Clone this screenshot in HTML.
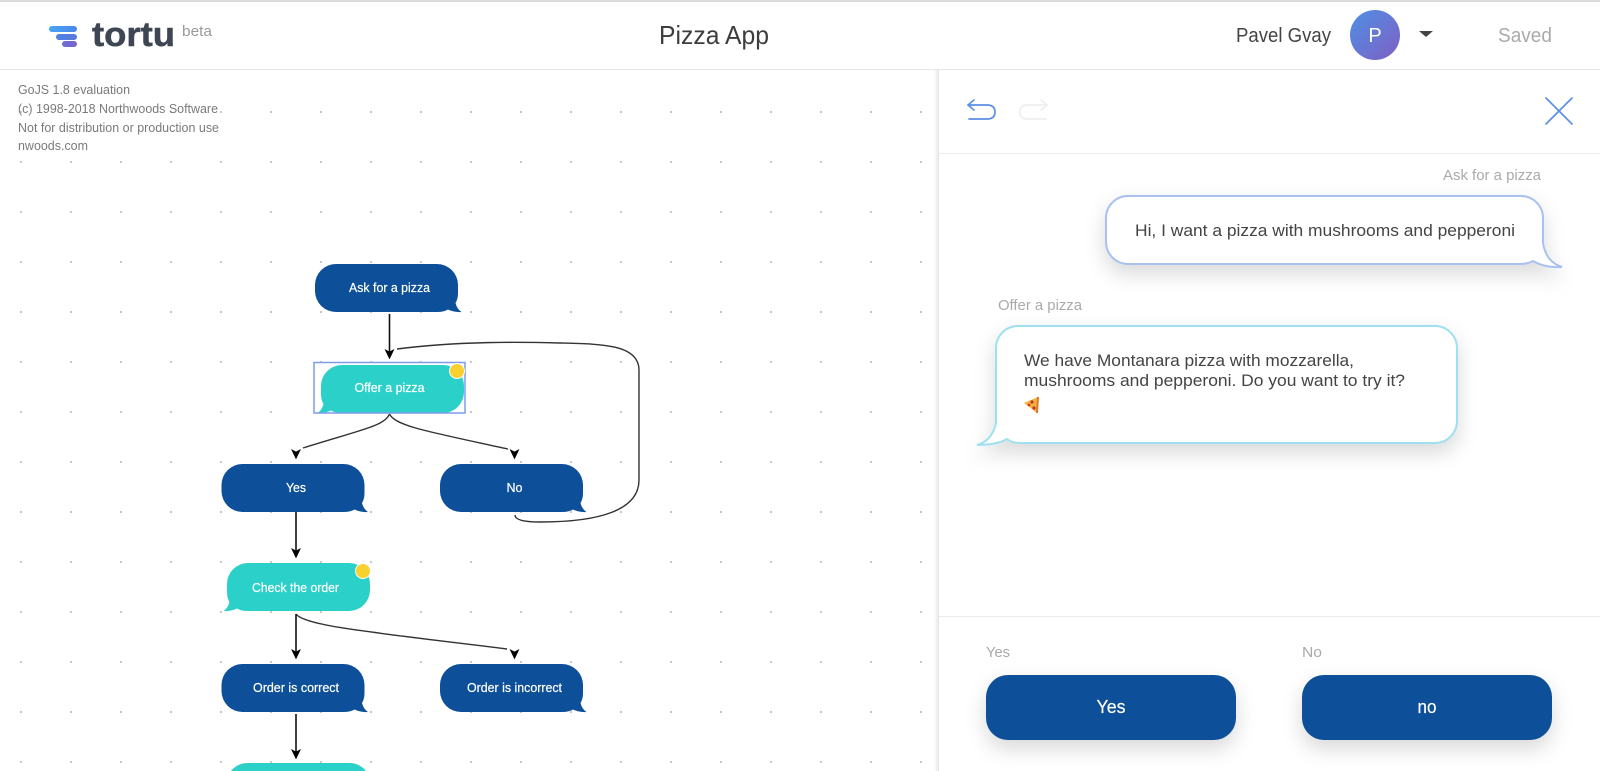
<!DOCTYPE html>
<html lang="en">
<head>
<meta charset="utf-8">
<title>Pizza App</title>
<style>
html,body{margin:0;padding:0;background:#fff;width:1600px;height:771px;overflow:hidden}
svg{display:block;font-family:"Liberation Sans",sans-serif;filter:blur(.35px)}
</style>
</head>
<body>
<svg xmlns="http://www.w3.org/2000/svg" width="1600" height="771" viewBox="0 0 1600 771">
<defs>
  <pattern id="dots" patternUnits="userSpaceOnUse" x="0" y="0" width="50" height="50">
    <rect x="20" y="11" width="2" height="2" fill="#c8c8c8"/>
  </pattern>
  <linearGradient id="logoA" x1="0" y1="0" x2="1" y2="0"><stop offset="0" stop-color="#46a5f5"/><stop offset="1" stop-color="#4a86ea"/></linearGradient>
  <linearGradient id="logoB" x1="0" y1="0" x2="1" y2="0"><stop offset="0" stop-color="#4e82e6"/><stop offset="1" stop-color="#5a78dc"/></linearGradient>
  <linearGradient id="logoC" x1="0" y1="0" x2="1" y2="0"><stop offset="0" stop-color="#6a6ed6"/><stop offset="1" stop-color="#7a62cc"/></linearGradient>
  <linearGradient id="ava" x1="0" y1="0" x2="1" y2="1"><stop offset="0" stop-color="#4f90e4"/><stop offset="1" stop-color="#7f5fc4"/></linearGradient>
  <linearGradient id="edge" x1="0" y1="0" x2="1" y2="0"><stop offset="0" stop-color="#fff"/><stop offset="1" stop-color="#e2e4e8"/></linearGradient>
  <filter id="sh" x="-15%" y="-30%" width="130%" height="180%"><feDropShadow dx="0" dy="9" stdDeviation="10" flood-color="#000" flood-opacity=".15"/></filter>
  <path id="blueNode" fill="#0d4f98" d="M21 0H122A21 21 0 0 1 143 21V29Q143 35 140.5 39Q142 45 146.5 48Q139 48.5 133 45.5Q129 48 122 48H21A21 21 0 0 1 0 27V21A21 21 0 0 1 21 0Z"/>
  <path id="tealNode" fill="#2bd0c9" transform="matrix(-1 0 0 1 143 0)" d="M21 0H122A21 21 0 0 1 143 21V29Q143 35 140.5 39Q142 45 146.5 48Q139 48.5 133 45.5Q129 48 122 48H21A21 21 0 0 1 0 27V21A21 21 0 0 1 21 0Z"/>
  <path id="arr" fill="#000" stroke="#000" stroke-width=".4" d="M0 0L-4.6 -9.6L0 -7.2L4.6 -9.6Z"/>
</defs>

<rect x="0" y="0" width="1600" height="771" fill="#fff"/>
<rect x="0" y="70" width="936" height="701" fill="url(#dots)"/>

<!-- header -->
<rect x="0" y="0" width="1600" height="2" fill="#dcdcdc"/>
<rect x="0" y="69" width="1600" height="1" fill="#e8e8e8"/>
<rect x="49" y="26" width="28" height="6" rx="3" fill="url(#logoA)"/>
<rect x="56" y="34" width="21" height="6" rx="3" fill="url(#logoB)"/>
<rect x="62" y="41" width="15" height="6" rx="3" fill="url(#logoC)"/>
<text x="92" y="46" font-size="34" font-weight="700" fill="#3f4653" stroke="#3f4653" stroke-width=".5" textLength="83" lengthAdjust="spacingAndGlyphs">tortu</text>
<text x="182" y="36" font-size="15" fill="#999" textLength="30" lengthAdjust="spacingAndGlyphs">beta</text>
<text x="659" y="44" font-size="26" fill="#3d3d3d" textLength="110" lengthAdjust="spacingAndGlyphs">Pizza App</text>
<text x="1236" y="42" font-size="20" fill="#444" textLength="95" lengthAdjust="spacingAndGlyphs">Pavel Gvay</text>
<circle cx="1375" cy="35" r="25" fill="url(#ava)"/>
<text x="1375" y="42" font-size="20" fill="#fff" text-anchor="middle">P</text>
<path d="M1419 31H1433L1426 37Z" fill="#444"/>
<text x="1498" y="42" font-size="20" fill="#aaa" textLength="54" lengthAdjust="spacingAndGlyphs">Saved</text>

<!-- watermark -->
<g font-size="13" fill="#7a7a7a">
  <text x="18" y="94" textLength="112" lengthAdjust="spacingAndGlyphs">GoJS 1.8 evaluation</text>
  <text x="18" y="113" textLength="200" lengthAdjust="spacingAndGlyphs">(c) 1998-2018 Northwoods Software</text>
  <text x="18" y="132" textLength="201" lengthAdjust="spacingAndGlyphs">Not for distribution or production use</text>
  <text x="18" y="150" textLength="70" lengthAdjust="spacingAndGlyphs">nwoods.com</text>
</g>

<!-- connectors -->
<g fill="none" stroke="#333" stroke-width="1.4">
  <path d="M397 349C460 341 520 342 560 343C600 344 639 344 639 370V480C639 510 600 522 540 522C525 522 515 520 515 515"/>
  <path d="M389.5 414C385 426 360 430 303 448"/>
  <path d="M389.5 414C395 426 430 432 508 449"/>
  <path d="M296 614C305 626 370 632 507 649"/>
</g>
<g stroke="#111" stroke-width="1.6">
  <path d="M389.5 314V352"/>
  <path d="M296 512V552"/>
  <path d="M296 614V652"/>
  <path d="M296 714V752"/>
</g>
<use href="#arr" x="389.5" y="359"/>
<use href="#arr" x="296" y="459"/>
<use href="#arr" x="514.5" y="459"/>
<use href="#arr" x="296" y="558"/>
<use href="#arr" x="296" y="659"/>
<use href="#arr" x="514.5" y="659"/>
<use href="#arr" x="296" y="759"/>

<!-- nodes -->
<use href="#blueNode" x="315" y="264"/>
<use href="#tealNode" x="321" y="365"/>
<use href="#blueNode" x="221.5" y="464"/>
<use href="#blueNode" x="440" y="464"/>
<use href="#tealNode" x="227" y="563"/>
<use href="#blueNode" x="221.5" y="664"/>
<use href="#blueNode" x="440" y="664"/>
<path fill="#2bd0c9" d="M231 771A21 21 0 0 1 248 763H349A21 21 0 0 1 366 771Z"/>
<rect x="314" y="362.5" width="151" height="50.5" fill="none" stroke="#7e9be8" stroke-width="1.5"/>
<circle cx="457" cy="371" r="7.5" fill="#f8d030" stroke="#fff" stroke-width="1"/>
<circle cx="363" cy="571" r="7.5" fill="#f8d030" stroke="#fff" stroke-width="1"/>
<g font-size="12.5" fill="#fff" stroke="#fff" stroke-width=".2" text-anchor="middle">
  <text x="389.5" y="292" textLength="81" lengthAdjust="spacingAndGlyphs">Ask for a pizza</text>
  <text x="389.5" y="392" textLength="70" lengthAdjust="spacingAndGlyphs">Offer a pizza</text>
  <text x="296" y="492" textLength="20" lengthAdjust="spacingAndGlyphs">Yes</text>
  <text x="514.5" y="492">No</text>
  <text x="295.5" y="592" textLength="87" lengthAdjust="spacingAndGlyphs">Check the order</text>
  <text x="296" y="692" textLength="86" lengthAdjust="spacingAndGlyphs">Order is correct</text>
  <text x="514.5" y="692" textLength="95" lengthAdjust="spacingAndGlyphs">Order is incorrect</text>
</g>

<!-- right panel -->
<rect x="934" y="70" width="5" height="701" fill="url(#edge)"/>
<rect x="939" y="70" width="661" height="701" fill="#fff"/>
<rect x="939" y="153" width="661" height="1" fill="#e9ebee"/>
<rect x="939" y="616" width="661" height="1" fill="#e9ebee"/>
<g fill="none" stroke="#5a8fe6" stroke-width="1.7" stroke-linecap="round" stroke-linejoin="round">
  <path d="M974 100L968 105L974 110"/>
  <path d="M968 105H987Q995 105 995 112Q995 119 987 119H969"/>
  <path d="M1546 98L1572 124M1572 98L1546 124"/>
</g>
<g fill="none" stroke="#eceeef" stroke-width="1.7" stroke-linecap="round" stroke-linejoin="round">
  <path d="M1041 100L1047 105L1041 110"/>
  <path d="M1047 105H1028Q1020 105 1020 112Q1020 119 1028 119H1046"/>
</g>

<text x="1443" y="180" font-size="15" fill="#aaa" textLength="98" lengthAdjust="spacingAndGlyphs">Ask for a pizza</text>
<path filter="url(#sh)" fill="#fff" stroke="#a9c0f0" stroke-width="2" d="M1128 196H1521A22 22 0 0 1 1543 218V243Q1546 262 1562 267Q1545 268 1533 261Q1528 264 1520 264H1128A22 22 0 0 1 1106 242V218A22 22 0 0 1 1128 196Z"/>
<text x="1135" y="236" font-size="17" fill="#444" textLength="380" lengthAdjust="spacingAndGlyphs">Hi, I want a pizza with mushrooms and pepperoni</text>

<text x="998" y="310" font-size="15" fill="#aaa" textLength="84" lengthAdjust="spacingAndGlyphs">Offer a pizza</text>
<path filter="url(#sh)" fill="#fff" stroke="#9fe0ee" stroke-width="2" d="M1018 326H1435A22 22 0 0 1 1457 348V421A22 22 0 0 1 1435 443H1020Q1012 443 1007 439Q997 445 977 445Q992 441 996 423V348A22 22 0 0 1 1018 326Z"/>
<text x="1024" y="366" font-size="17" fill="#444" textLength="330" lengthAdjust="spacingAndGlyphs">We have Montanara pizza with mozzarella,</text>
<text x="1024" y="386" font-size="17" fill="#444" textLength="381" lengthAdjust="spacingAndGlyphs">mushrooms and pepperoni. Do you want to try it?</text>
<path d="M1024 403L1038 397L1037 413Z" fill="#f3b23e"/>
<path d="M1037 397L1039 397L1038 413L1036 413Z" fill="#d9782a"/>
<circle cx="1032" cy="402" r="1.6" fill="#c8321e"/>
<circle cx="1029" cy="405" r="1.3" fill="#c8321e"/>
<circle cx="1034" cy="408" r="1.6" fill="#c8321e"/>

<text x="986" y="657" font-size="15" fill="#aaa" textLength="24" lengthAdjust="spacingAndGlyphs">Yes</text>
<text x="1302" y="657" font-size="15" fill="#aaa" textLength="20" lengthAdjust="spacingAndGlyphs">No</text>
<rect x="986" y="675" width="250" height="65" rx="22" fill="#0d4f98" filter="url(#sh)"/>
<rect x="1302" y="675" width="250" height="65" rx="22" fill="#0d4f98" filter="url(#sh)"/>
<text x="1111" y="713" font-size="18" fill="#fff" stroke="#fff" stroke-width=".2" text-anchor="middle" textLength="29" lengthAdjust="spacingAndGlyphs">Yes</text>
<text x="1427" y="713" font-size="18" fill="#fff" stroke="#fff" stroke-width=".2" text-anchor="middle" textLength="19" lengthAdjust="spacingAndGlyphs">no</text>
</svg>
</body>
</html>
